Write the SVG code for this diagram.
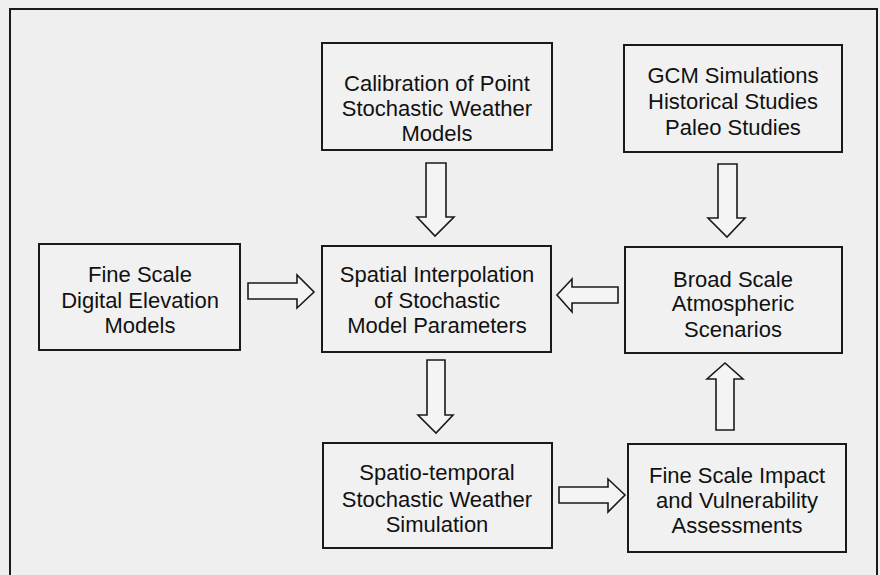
<svg xmlns="http://www.w3.org/2000/svg" width="880" height="575" viewBox="0 0 880 575">
<style>
.bg{fill:#efefef}
.frame{fill:none;stroke:#1a1a1a;stroke-width:2}
.box{fill:#f1f1f1;stroke:#1a1a1a;stroke-width:2}
.arr{fill:#f4f4f4;stroke:#1a1a1a;stroke-width:1.6;stroke-linejoin:miter}
text{font-family:"Liberation Sans",Arial,sans-serif;font-size:22px;fill:#111;text-anchor:middle}
</style>
<rect class="bg" x="0" y="0" width="880" height="575"/>
<rect class="frame" x="10" y="9" width="867" height="580"/>
<g id="calibration">
<rect class="box" x="322" y="43" width="230" height="107"/>
<text x="437" y="91">Calibration of Point</text>
<text x="437" y="116">Stochastic Weather</text>
<text x="437" y="141">Models</text>
</g>
<g id="gcm">
<rect class="box" x="624" y="45" width="218" height="107"/>
<text x="733" y="83">GCM Simulations</text>
<text x="733" y="109">Historical Studies</text>
<text x="733" y="135">Paleo Studies</text>
</g>
<g id="dem">
<rect class="box" x="39" y="244" width="201" height="106"/>
<text x="140" y="282">Fine Scale</text>
<text x="140" y="308">Digital Elevation</text>
<text x="140" y="333">Models</text>
</g>
<g id="spatial">
<rect class="box" x="322" y="246" width="229" height="106"/>
<text x="437" y="282">Spatial Interpolation</text>
<text x="437" y="308">of Stochastic</text>
<text x="437" y="333">Model Parameters</text>
</g>
<g id="broad">
<rect class="box" x="625" y="247" width="217" height="106"/>
<text x="733" y="287">Broad Scale</text>
<text x="733" y="311">Atmospheric</text>
<text x="733" y="337">Scenarios</text>
</g>
<g id="spatiotemporal">
<rect class="box" x="323" y="443" width="229" height="105"/>
<text x="437" y="480">Spatio-temporal</text>
<text x="437" y="507">Stochastic Weather</text>
<text x="437" y="532">Simulation</text>
</g>
<g id="impact">
<rect class="box" x="628" y="444" width="218" height="108"/>
<text x="737" y="483">Fine Scale Impact</text>
<text x="737" y="508">and Vulnerability</text>
<text x="737" y="533">Assessments</text>
</g>
<g id="connectors">
<path class="arr" d="M426,163 H446 V217 H454 L435,236 L417,217 H426 Z"/>
<path class="arr" d="M718,164 H737 V218 H745 L727,237 L708,218 H718 Z"/>
<path class="arr" d="M248,283 H297 V275 L314,292 L297,308 V299 H248 Z"/>
<path class="arr" d="M618,287 H572 V279 L557,295 L572,312 V303 H618 Z"/>
<path class="arr" d="M427,360 H445 V415 H453 L436,433 L418,415 H427 Z"/>
<path class="arr" d="M716,430 H734 V379 H743 L725,363 L707,379 H716 Z"/>
<path class="arr" d="M559,487 H608 V479 L625,495 L608,512 V503 H559 Z"/>
</g>
</svg>
